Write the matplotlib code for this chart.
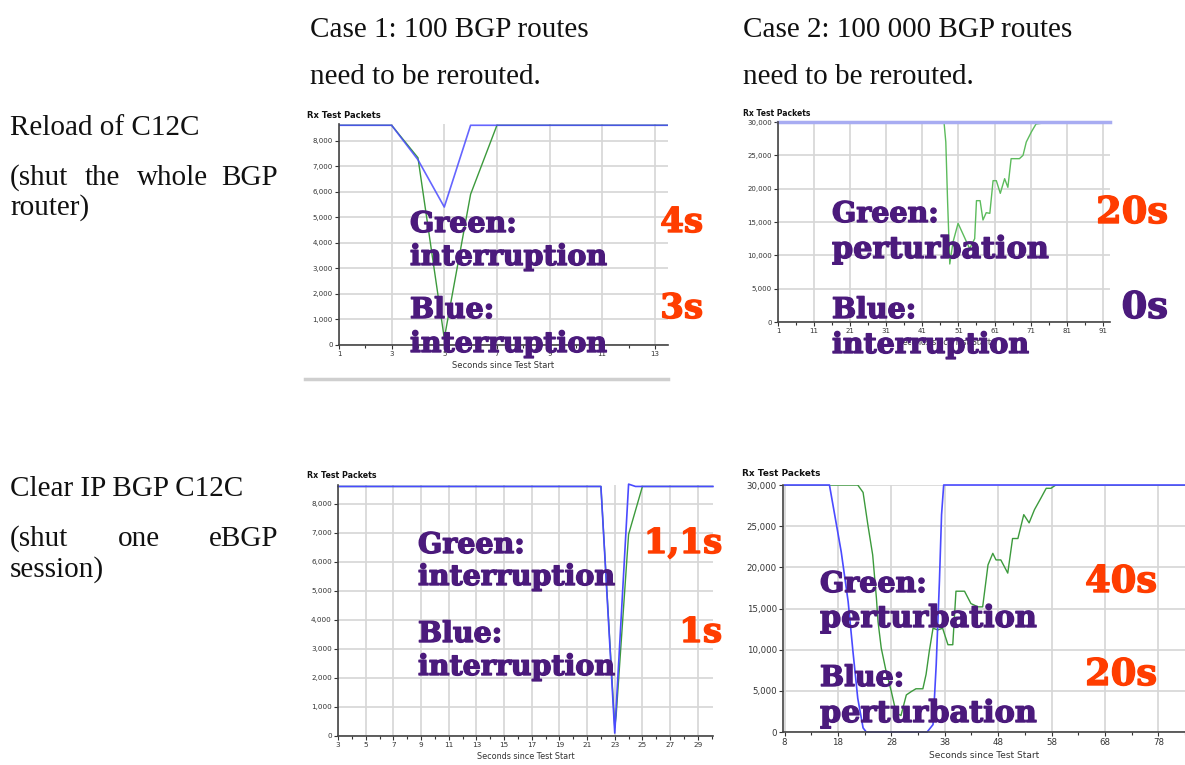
import matplotlib
matplotlib.use("Agg")
from matplotlib import pyplot as plt
from matplotlib import patheffects as pe
from matplotlib.ticker import MultipleLocator, StrMethodFormatter, FixedLocator
from matplotlib.lines import Line2D

W, H = 1185, 765

# Case 1, reload of C12C (100 routes)
c1_sec = [1, 2, 3, 4, 5, 6, 7, 8, 9, 10, 11, 12, 13, 13.5]
c1_blue = [8600, 8600, 8600, 7250, 5400, 8600, 8600, 8600, 8600, 8600, 8600, 8600, 8600, 8600]
c1_green = [8600, 8600, 8600, 7330, 260, 5900, 8600, 8600, 8600, 8600, 8600, 8600, 8600, 8600]

# Case 2, reload of C12C (100 000 routes)
c2_blue_sec = [1, 93]
c2_blue = [30000, 30000]
c2_green_sec = [47, 47.5, 48, 48.6, 49.5, 50.9, 52, 54.1, 55.5, 56, 57, 57.8, 58.7, 59.7,
                60.6, 61.5, 62.6, 63.8, 64.7, 65.6, 67.9, 68.9, 69.8, 71.2, 72.5, 73.9, 74.8]
c2_green = [30000, 27000, 18000, 8700, 12000, 14800, 13500, 11000, 12500, 18200, 18200, 15300,
            16400, 16300, 21200, 21200, 19300, 21500, 20200, 24500, 24500, 25000, 27000, 28500,
            29700, 29800, 30000]

# Case 1, clear ip bgp (100 routes)
c3_blue_sec = [3, 22, 23, 24, 24.5, 30.1]
c3_blue = [8600, 8600, 100, 8680, 8600, 8600]
c3_green_sec = [3, 22, 23, 23.1, 24, 25, 30.1]
c3_green = [8600, 8600, 300, 700, 6950, 8600, 8600]

# Case 2, clear ip bgp (100 000 routes)
c4_blue_sec = [8, 16.4, 18.6, 19.9, 20.8, 21.7, 22.7, 23.3, 34.7, 35.8, 36.4, 37.0, 37.4, 37.8, 83]
c4_blue = [30000, 30000, 21900, 15850, 9800, 4100, 500, 0, 0, 900, 8200, 18300, 26400, 30000, 30000]
c4_green_sec = [8, 21.7, 22.7, 23.6, 24.5, 25.2, 25.5, 26.1, 27, 28, 28.9, 29.8, 30.8, 31.7, 32.6,
                33.9, 34.5, 35.1, 35.8, 36.7, 37.6, 38.6, 39.5, 40.1, 41.7, 42.9, 44.2, 45.1,
                46.1, 47, 47.6, 48.5, 49.8, 50.7, 51.7, 52.8, 53.8, 54.8, 56, 57, 57.9, 58.8, 83]
c4_green = [30000, 30000, 29100, 25150, 21500, 16250, 13400, 10200, 7400, 4900, 2300, 2000, 4500,
            4900, 5250, 5250, 7000, 9800, 12600, 12400, 12600, 10600, 10600, 17100, 17100, 15600,
            15200, 15200, 20300, 21700, 20900, 20900, 19300, 23500, 23500, 26400, 25400, 27000,
            28400, 29600, 29600, 30000, 30000]

BLUE = "#4a4aff"
GREEN = "#3c9a3c"
PURPLE = "#4b1a7c"
ORANGE = "#ff3d00"


def fx(x):
    return x / W


def fy(y):
    return 1 - y / H


fig = plt.figure(figsize=(W / 100, H / 100), dpi=100)


def chart(l, t, r, b, xlim, ylim, xmaj, xmin, ymaj, fs, xlabel_fs=None):
    ax = fig.add_axes([fx(l), fy(b), (r - l) / W, (b - t) / H])
    ax.set_xlim(*xlim)
    ax.set_ylim(*ylim)
    ax.xaxis.set_major_locator(FixedLocator(xmaj))
    ax.xaxis.set_minor_locator(FixedLocator(xmin))
    ax.yaxis.set_major_locator(MultipleLocator(ymaj))
    ax.yaxis.set_major_formatter(StrMethodFormatter("{x:,.0f}"))
    ax.grid(True, which="major", color="#d6d6d6", lw=1.2)
    ax.set_axisbelow(True)
    for s in ("top", "right"):
        ax.spines[s].set_visible(False)
    for s in ("left", "bottom"):
        ax.spines[s].set_color("#444444")
        ax.spines[s].set_linewidth(1.2)
    ax.tick_params(labelsize=fs, colors="#333333", length=3, width=0.8, pad=1.5)
    ax.tick_params(which="minor", length=2, width=0.8, color="#333333")
    if xlabel_fs:
        ax.set_xlabel("Seconds since Test Start", fontsize=xlabel_fs, color="#333333", labelpad=3)
    return ax


def title(x, y, fs):
    fig.text(fx(x), fy(y), "Rx Test Packets", fontsize=fs, fontweight="bold",
             ha="left", va="center", color="#111111")


def overlay(x, ys, lines, rx, vals, nfs):
    for yy, s in zip(ys, lines):
        size = 21.8 if s == "perturbation" else 20.5
        fig.text(fx(x), fy(yy), s, fontsize=size, fontweight="bold", family="DejaVu Serif",
                 color=PURPLE, ha="left", va="baseline",
                 path_effects=[pe.withStroke(linewidth=1.0, foreground=PURPLE)])
    for (yy, s, c) in vals:
        fig.text(fx(rx), fy(yy), s, fontsize=nfs, fontweight="bold", family="DejaVu Serif",
                 color=c, ha="right", va="baseline",
                 path_effects=[pe.withStroke(linewidth=1.0, foreground=c)])


# chart 1
ax1 = chart(339, 124, 668, 345, (1, 13.5), (0, 8650), range(1, 14, 2), range(2, 14, 2), 1000,
            5, 6)
ax1.plot(c1_sec, c1_green, color=GREEN, lw=1)
ax1.plot(c1_sec, c1_blue, color=BLUE, lw=1.2, alpha=0.85)
title(307, 115, 6)
fig.add_artist(Line2D([fx(305), fx(668)], [fy(379), fy(379)], color="#cfcfcf", lw=2.5))

# chart 2
ax2 = chart(778, 122, 1110, 322, (1, 93), (0, 30000), range(1, 92, 10), range(6, 93, 10), 5000,
            5, 5.5)
ax2.plot(c2_green_sec, c2_green, color="#5cbb5c", lw=1)
ax2.plot(c2_blue_sec, c2_blue, color="#a8acf2", lw=2.5, clip_on=False)
title(743, 113, 5.5)

# chart 3
ax3 = chart(338, 485, 713, 736, (3, 30.1), (0, 8650), range(3, 30, 2), range(4, 31, 2), 1000,
            5.2, 5.8)
ax3.plot(c3_green_sec, c3_green, color=GREEN, lw=1)
ax3.plot(c3_blue_sec, c3_blue, color=BLUE, lw=1.2, clip_on=False)
title(307, 475, 5.7)

# chart 4
ax4 = chart(783, 485, 1185, 732, (7.7, 83), (0, 30000), range(8, 80, 10), range(13, 84, 10), 5000,
            6.2, 6.5)
ax4.plot(c4_green_sec, c4_green, color=GREEN, lw=1)
ax4.plot(c4_blue_sec, c4_blue, color=BLUE, lw=1.2, clip_on=False)
title(742, 474, 6.4)

# overlays
overlay(410, [232, 265, 318, 352], ["Green:", "interruption", "Blue:", "interruption"],
        703, [(232, "4s", ORANGE), (318, "3s", ORANGE)], 24.5)
overlay(832, [222, 258, 318, 353], ["Green:", "perturbation", "Blue:", "interruption"],
        1168, [(223, "20s", ORANGE), (318, "0s", PURPLE)], 26.5)
overlay(418, [553, 585, 642, 675], ["Green:", "interruption", "Blue:", "interruption"],
        722, [(553, "1,1s", ORANGE), (642, "1s", ORANGE)], 24.5)
overlay(820, [592, 627, 686, 722], ["Green:", "perturbation", "Blue:", "perturbation"],
        1157, [(592, "40s", ORANGE), (685, "20s", ORANGE)], 26.5)

# header / side texts
serif = dict(family="Liberation Serif", fontsize=21, color="#111111", va="baseline")
fig.text(fx(310), fy(37), "Case 1: 100 BGP routes", ha="left", **serif)
fig.text(fx(310), fy(84), "need to be rerouted.", ha="left", **serif)
fig.text(fx(743), fy(37), "Case 2: 100 000 BGP routes", ha="left", **serif)
fig.text(fx(743), fy(84), "need to be rerouted.", ha="left", **serif)

fig.text(fx(10), fy(135), "Reload of C12C", ha="left", **serif)
fig.text(fx(10), fy(185), "(shut", ha="left", **serif)
fig.text(fx(85), fy(185), "the", ha="left", **serif)
fig.text(fx(137), fy(185), "whole", ha="left", **serif)
fig.text(fx(278), fy(185), "BGP", ha="right", **serif)
fig.text(fx(10), fy(215), "router)", ha="left", **serif)

fig.text(fx(10), fy(496), "Clear IP BGP C12C", ha="left", **serif)
fig.text(fx(10), fy(546), "(shut", ha="left", **serif)
fig.text(fx(118), fy(546), "one", ha="left", **serif)
fig.text(fx(278), fy(546), "eBGP", ha="right", **serif)
fig.text(fx(10), fy(577), "session)", ha="left", **serif)

fig.savefig("out.png", dpi=100)
